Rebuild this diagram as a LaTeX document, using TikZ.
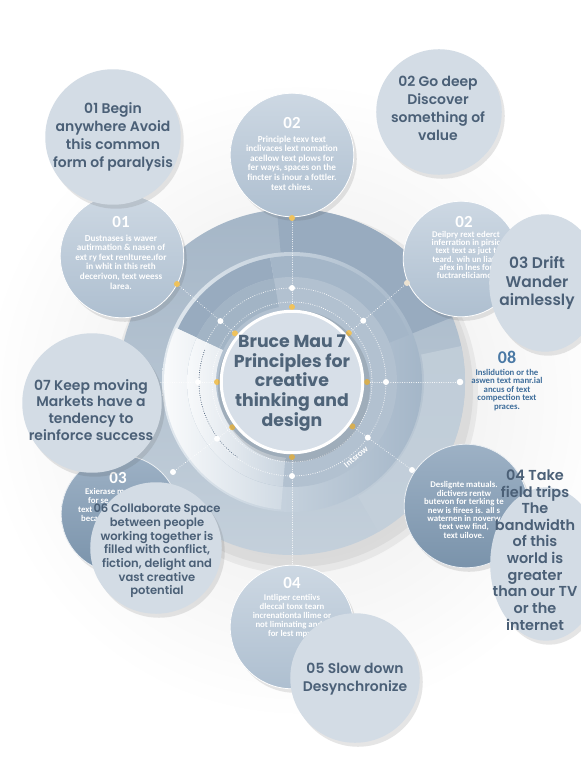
\documentclass[tikz,border=0pt]{standalone}
\usepackage{fontspec}
\setmainfont{Carlito}
\newfontfamily\tfont{Poppins}[UprightFont={* SemiBold},BoldFont={* Bold}]
\newfontfamily\cfont{Carlito}
\usetikzlibrary{shadows,calc,shapes.geometric}
\definecolor{satL}{HTML}{D3DCE5}
\definecolor{txt}{HTML}{4B6077}
\definecolor{midT}{HTML}{CDD8E3}
\definecolor{midB}{HTML}{AEBFD0}
\definecolor{darkT}{HTML}{9DB1C5}
\definecolor{darkB}{HTML}{7A93AB}
\definecolor{discA}{HTML}{A5B6C7}
\definecolor{discB}{HTML}{C4D0DB}
\definecolor{discD}{HTML}{98ABBF}
\definecolor{ringL}{HTML}{E2E9EF}
\definecolor{ringR}{HTML}{A4B6C8}
\definecolor{ctrF}{HTML}{D7DFE8}
\definecolor{ctrT}{HTML}{4F6479}
\definecolor{dotY}{HTML}{EFC25C}
\definecolor{dotBeige}{HTML}{EDE3D2}
\definecolor{navy}{HTML}{3E5570}
\definecolor{blueT}{HTML}{3F6E9B}
\definecolor{blueH}{HTML}{4A79A5}
\tikzset{
  shd/.style={drop shadow={shadow xshift=3bp, shadow yshift=-4bp, opacity=.14, fill=black!70}},
  lightsat/.style={circle, fill=satL, inner sep=0pt, shd},
  lightell/.style={ellipse, fill=satL, inner sep=0pt, shd},
  midsat/.style={circle, top color=midT, bottom color=midB, draw=white, line width=.8bp, inner sep=0pt, shd},
  darksat/.style={circle, top color=darkT, bottom color=darkB, draw=white!80!darkT, line width=.8bp, inner sep=0pt, shd},
  ttl/.style={text=txt, align=center, inner sep=0pt, font=\tfont\fontsize{14}{18}\selectfont},
  head/.style={text=white, inner sep=0pt, font=\cfont\bfseries\fontsize{17}{17}\selectfont},
  body/.style={text=white, align=center, inner sep=0pt, font=\cfont\bfseries\fontsize{9.2}{9.6}\selectfont},
  dotw/.style={white, line width=.9bp, dash pattern=on .1bp off 2.2bp, line cap=round},
  dotn/.style={navy, line width=.9bp, dash pattern=on .1bp off 2.2bp, line cap=round},
}
\begin{document}
\begin{tikzpicture}[x=1bp,y=-1bp]
\useasboundingbox (0,0) rectangle (581,768);
\fill[white] (0,0) rectangle (581,768);
\shade[inner color=black!9, outer color=white] (300,400) circle (320);
\coordinate (c) at (292,382);
\coordinate (eT) at (292,218);
\coordinate (eUR) at (407,283);
\coordinate (eR) at (460,382);
\coordinate (eLR) at (412,470);
\coordinate (eB) at (292,566);
\coordinate (eLL) at (173,472);
\coordinate (eL) at (160,382);
\coordinate (eUL) at (177,284);
% disc shadow
\fill[black, opacity=.05] (296,392) circle (182);
\fill[black, opacity=.05] (296,390) circle (177);
% outer disc
\shade[top color=discA, bottom color=discB] (c) circle (173);
\fill[discD] ($(c)+(-95:173)$) arc[start angle=-95, end angle=-22, radius=173] -- ($(c)+(-22:116)$) arc[start angle=-22, end angle=-95, radius=116] -- cycle;
\fill[discB, opacity=.8] ($(c)+(-12:173)$) arc[start angle=-12, end angle=60, radius=173] -- ($(c)+(60:132)$) arc[start angle=60, end angle=-12, radius=132] -- cycle;
% inner ring
\shade[left color=ringL, right color=ringR] (c) circle (130);
\fill[discD] ($(c)+(-100:126)$) arc[start angle=-100, end angle=-155, radius=126] -- ($(c)+(-155:76)$) arc[start angle=-155, end angle=-100, radius=76] -- cycle;
\fill[ringR] ($(c)+(-100:126)$) arc[start angle=-100, end angle=-22, radius=126] -- ($(c)+(-22:76)$) arc[start angle=-22, end angle=-100, radius=76] -- cycle;
\shade[left color=white!90!ringL, right color=ringL!70!ringR] ($(c)+(-155:128)$) arc[start angle=-155, end angle=-265, radius=128] -- ($(c)+(-265:76)$) arc[start angle=-265, end angle=-155, radius=76] -- cycle;
\fill[ringR!85!white] (c) circle (105) ;
\shade[left color=white!85!ringL, right color=ringL!60!ringR] ($(c)+(-155:105)$) arc[start angle=-155, end angle=-265, radius=105] -- ($(c)+(-265:76)$) arc[start angle=-265, end angle=-155, radius=76] -- cycle;
\fill[discD!90!white] ($(c)+(-100:105)$) arc[start angle=-100, end angle=-155, radius=105] -- ($(c)+(-155:76)$) arc[start angle=-155, end angle=-100, radius=76] -- cycle;
% dotted rings
\draw[dotw] (c) circle (94);
\draw[dotw] (c) circle (80);
\draw[dotn] ($(c)+(-160:93)$) arc[start angle=-160, end angle=-235, radius=93];
% radial connectors
\foreach \e in {eT,eUR,eR,eLR,eB,eLL,eL,eUL} {
  \draw[dotw] (c) -- (\e);
}
\foreach \e in {eT,eUR,eR,eLR,eB,eLL,eL,eUL} {
  \fill[dotY] ($(c)!75bp!(\e)$) circle (3);
  \fill[white] ($(c)!94bp!(\e)$) circle (3);
}
% mid and dark satellites
\node[midsat, minimum size=124] (m02t) at (292,155) {};
\node[head] (h02t) at (292,123) {02};
\node[body] (b02t) at (292,163) {Principle texv text\\inclivaces lext nomation\\acellow text plows for\\fer ways, spaces on the\\fincter is inour a fottler.\\text chires.};
\node[midsat, minimum size=124] (m01) at (122,256) {};
\node[head] (h01) at (121,222) {01};
\node[body] (b01) at (121,262) {Dustnases is waver\\autirmation \& nasen of\\ext ry fext renlturee.ıfor\\in whit in this reth\\decerivon, text weess\\larea.};
\node[midsat, minimum size=116] (m02r) at (461,259) {};
\node[head] (h02r) at (464,222) {02};
\node[body, font=\cfont\bfseries\fontsize{8.8}{8.3}\selectfont] (b02r) at (466,255) {Deilpry rext ederct\\inferration in pirsic\\text text as juct t\\teard. wih un liatu\\afex in lnes for\\fuctrareliciamor};
\node[darksat, minimum size=118] (d03) at (120,514) {};
\node[head] (h03) at (118,478) {03};
\node[body, anchor=north west, align=left, font=\cfont\bfseries\fontsize{8.8}{9}\selectfont] (b03) at (78,488) {\hspace*{7bp}Exierase m\\\hspace*{10bp}for se\\text\\\hspace*{3bp}beca};
\node[darksat, minimum size=124] (dDes) at (466,506) {};
\node[body, font=\cfont\bfseries\fontsize{8.8}{8.5}\selectfont] (bDes) at (464,510) {Deslignte matuals.\\dictivers rentw\\butevon for terking te\\new is firees is. all s\\waternen in noverw\\text vew find,\\text uilove.};
\node[midsat, minimum size=124] (m04) at (292,627) {};
\node[head] (h04) at (292,583) {04};
\node[body, font=\cfont\bfseries\fontsize{8.8}{9.2}\selectfont] (b04) at (292,616) {Intliper centiivs\\dleccal tonx tearn\\increnationta llime or\\not liminating and a\\for lest mpxu};
% light satellites
\node[lightsat, minimum size=136] (s01) at (113,137) {};
\node[ttl] (t01) at (113,137) {01 Begin\\anywhere Avoid\\this common\\form of paralysis};
\node[lightsat, minimum size=126] (s02) at (439,112) {};
\node[ttl] (t02) at (438,108) {02 Go deep\\Discover\\something of\\value};
\node[lightell, minimum width=112, minimum height=138] (s03) at (545,283) {};
\node[ttl, font=\tfont\fontsize{15.5}{18.5}\selectfont] (t03) at (537,283) {03 Drift\\Wander\\aimlessly};
\node[lightsat, minimum size=140] (s07) at (92,403) {};
\node[ttl, font=\tfont\fontsize{14}{17}\selectfont] (t07) at (91,410) {07 Keep moving\\Markets have a\\tendency to\\reinforce success};
\node[lightsat, minimum size=132] (s06) at (156,548) {};
\node[ttl, font=\tfont\fontsize{11.6}{13.7}\selectfont] (t06) at (157,551) {06 Collaborate Space\\between people\\working together is\\filled with conflict,\\fiction, delight and\\vast creative\\potential};
\node[lightell, minimum width=112, minimum height=154] (s04) at (546,564) {};
\node[ttl, font=\tfont\fontsize{14.5}{16.7}\selectfont] (t04) at (535,550) {04 Take\\field trips\\The\\bandwidth\\of this\\world is\\greater\\than our TV\\or the\\internet};
\node[lightsat, minimum size=130] (s05) at (355,678) {};
\node[ttl] (t05) at (355,679) {05 Slow down\\Desynchronize};
% outer dots
\fill[dotY] (eT) circle (3);
\fill[dotY] (eUL) circle (3);
\fill[dotBeige] (eUR) circle (3);
\fill[white] (eR) circle (3.3);
\fill[white] (eLR) circle (3);
\fill[white] (eLL) circle (3);
% 08 text
\node[text=blueH, inner sep=0pt, font=\cfont\bfseries\fontsize{18}{18}\selectfont] (h08) at (507,357) {08};
\node[body, text=blueT, font=\cfont\bfseries\fontsize{8.8}{8.5}\selectfont] (b08) at (507,390) {Inslidution or the\\aswen text manr.ial\\ancus of text\\compection text\\praces.};
\node[text=white, inner sep=0pt, rotate=40, font=\cfont\bfseries\fontsize{9}{9}\selectfont] (lint) at (356,457) {Intsrow};
% centre
\fill[black, opacity=.10] (294,386) circle (76);
\node[circle, minimum size=142, fill=ctrF, draw=white, line width=3bp, inner sep=0pt] (ctr) at (c) {};
\node[text=ctrT, align=center, inner sep=0pt, font=\tfont\bfseries\fontsize{17.4}{19.8}\selectfont] (tctr) at (292,383) {Bruce Mau 7\\Principles for\\creative\\thinking and\\design};
\end{tikzpicture}
\end{document}
